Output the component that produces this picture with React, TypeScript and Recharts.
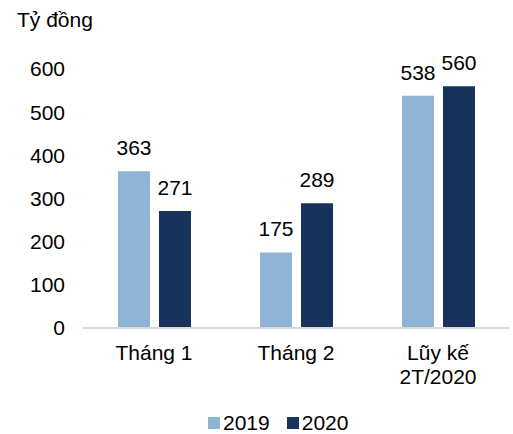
import { BarChart, Bar, XAxis, YAxis, LabelList } from "recharts";

const categories = ["Tháng 1", "Tháng 2", "Lũy kế\n2T/2020"];
const values2019 = [363, 175, 538];
const values2020 = [271, 289, 560];
const yTicks = [0, 100, 200, 300, 400, 500, 600];

const data = categories.map((name, i) => ({
  name,
  y2019: values2019[i],
  y2020: values2020[i],
}));

const FONT = "Arial, 'Liberation Sans', sans-serif";
const LIGHT = "#8FB4D6";
const DARK = "#17335C";

const legendItems = [
  { label: "2019", color: LIGHT },
  { label: "2020", color: DARK },
];

// multi-line category labels
function CategoryTick({ x, y, payload }: any) {
  const lines = String(payload.value).split("\n");
  return (
    <text x={x} y={y} textAnchor="middle" fontFamily={FONT} fontSize={21} fill="#000">
      {lines.map((line, i) => (
        <tspan key={i} x={x} dy={i === 0 ? 24 : 24}>
          {line}
        </tspan>
      ))}
    </text>
  );
}

export default function App() {
  return (
    <div style={{ position: "absolute", left: 0, top: 0, width: 513, height: 434, background: "#fff" }}>
      <div
        style={{
          position: "absolute",
          left: 17,
          top: 7,
          fontFamily: FONT,
          fontSize: 21,
          color: "#000",
          lineHeight: "26px",
        }}
      >
        Tỷ đồng
      </div>
      <BarChart
        width={513}
        height={434}
        data={data}
        margin={{ top: 69, right: 4, bottom: 30, left: 0 }}
        barSize={32}
        barGap={9}
      >
        <XAxis
          dataKey="name"
          height={76}
          axisLine={{ stroke: "#D9D9D9", strokeWidth: 2 }}
          tickLine={false}
          tick={<CategoryTick />}
          interval={0}
        />
        <YAxis
          width={83}
          domain={[0, 600]}
          ticks={yTicks}
          axisLine={false}
          tickLine={false}
          tickMargin={12}
          tick={{ fontFamily: FONT, fontSize: 21, fill: "#000" }}
        />
        <Bar dataKey="y2019" name="2019" fill={LIGHT} isAnimationActive={false}>
          <LabelList dataKey="y2019" position="top" offset={16} fontFamily={FONT} fontSize={21} fill="#000" />
        </Bar>
        <Bar dataKey="y2020" name="2020" fill={DARK} isAnimationActive={false}>
          <LabelList dataKey="y2020" position="top" offset={16} fontFamily={FONT} fontSize={21} fill="#000" />
        </Bar>
      </BarChart>
      <div
        style={{
          position: "absolute",
          left: 208,
          top: 410,
          display: "flex",
          fontFamily: FONT,
          fontSize: 21,
          lineHeight: "26px",
          color: "#000",
        }}
      >
        {legendItems.map((it) => (
          <div key={it.label} style={{ display: "flex", alignItems: "center", marginRight: 17 }}>
            <span style={{ width: 12, height: 12, background: it.color, marginRight: 3, display: "inline-block" }} />
            <span>{it.label}</span>
          </div>
        ))}
      </div>
    </div>
  );
}
